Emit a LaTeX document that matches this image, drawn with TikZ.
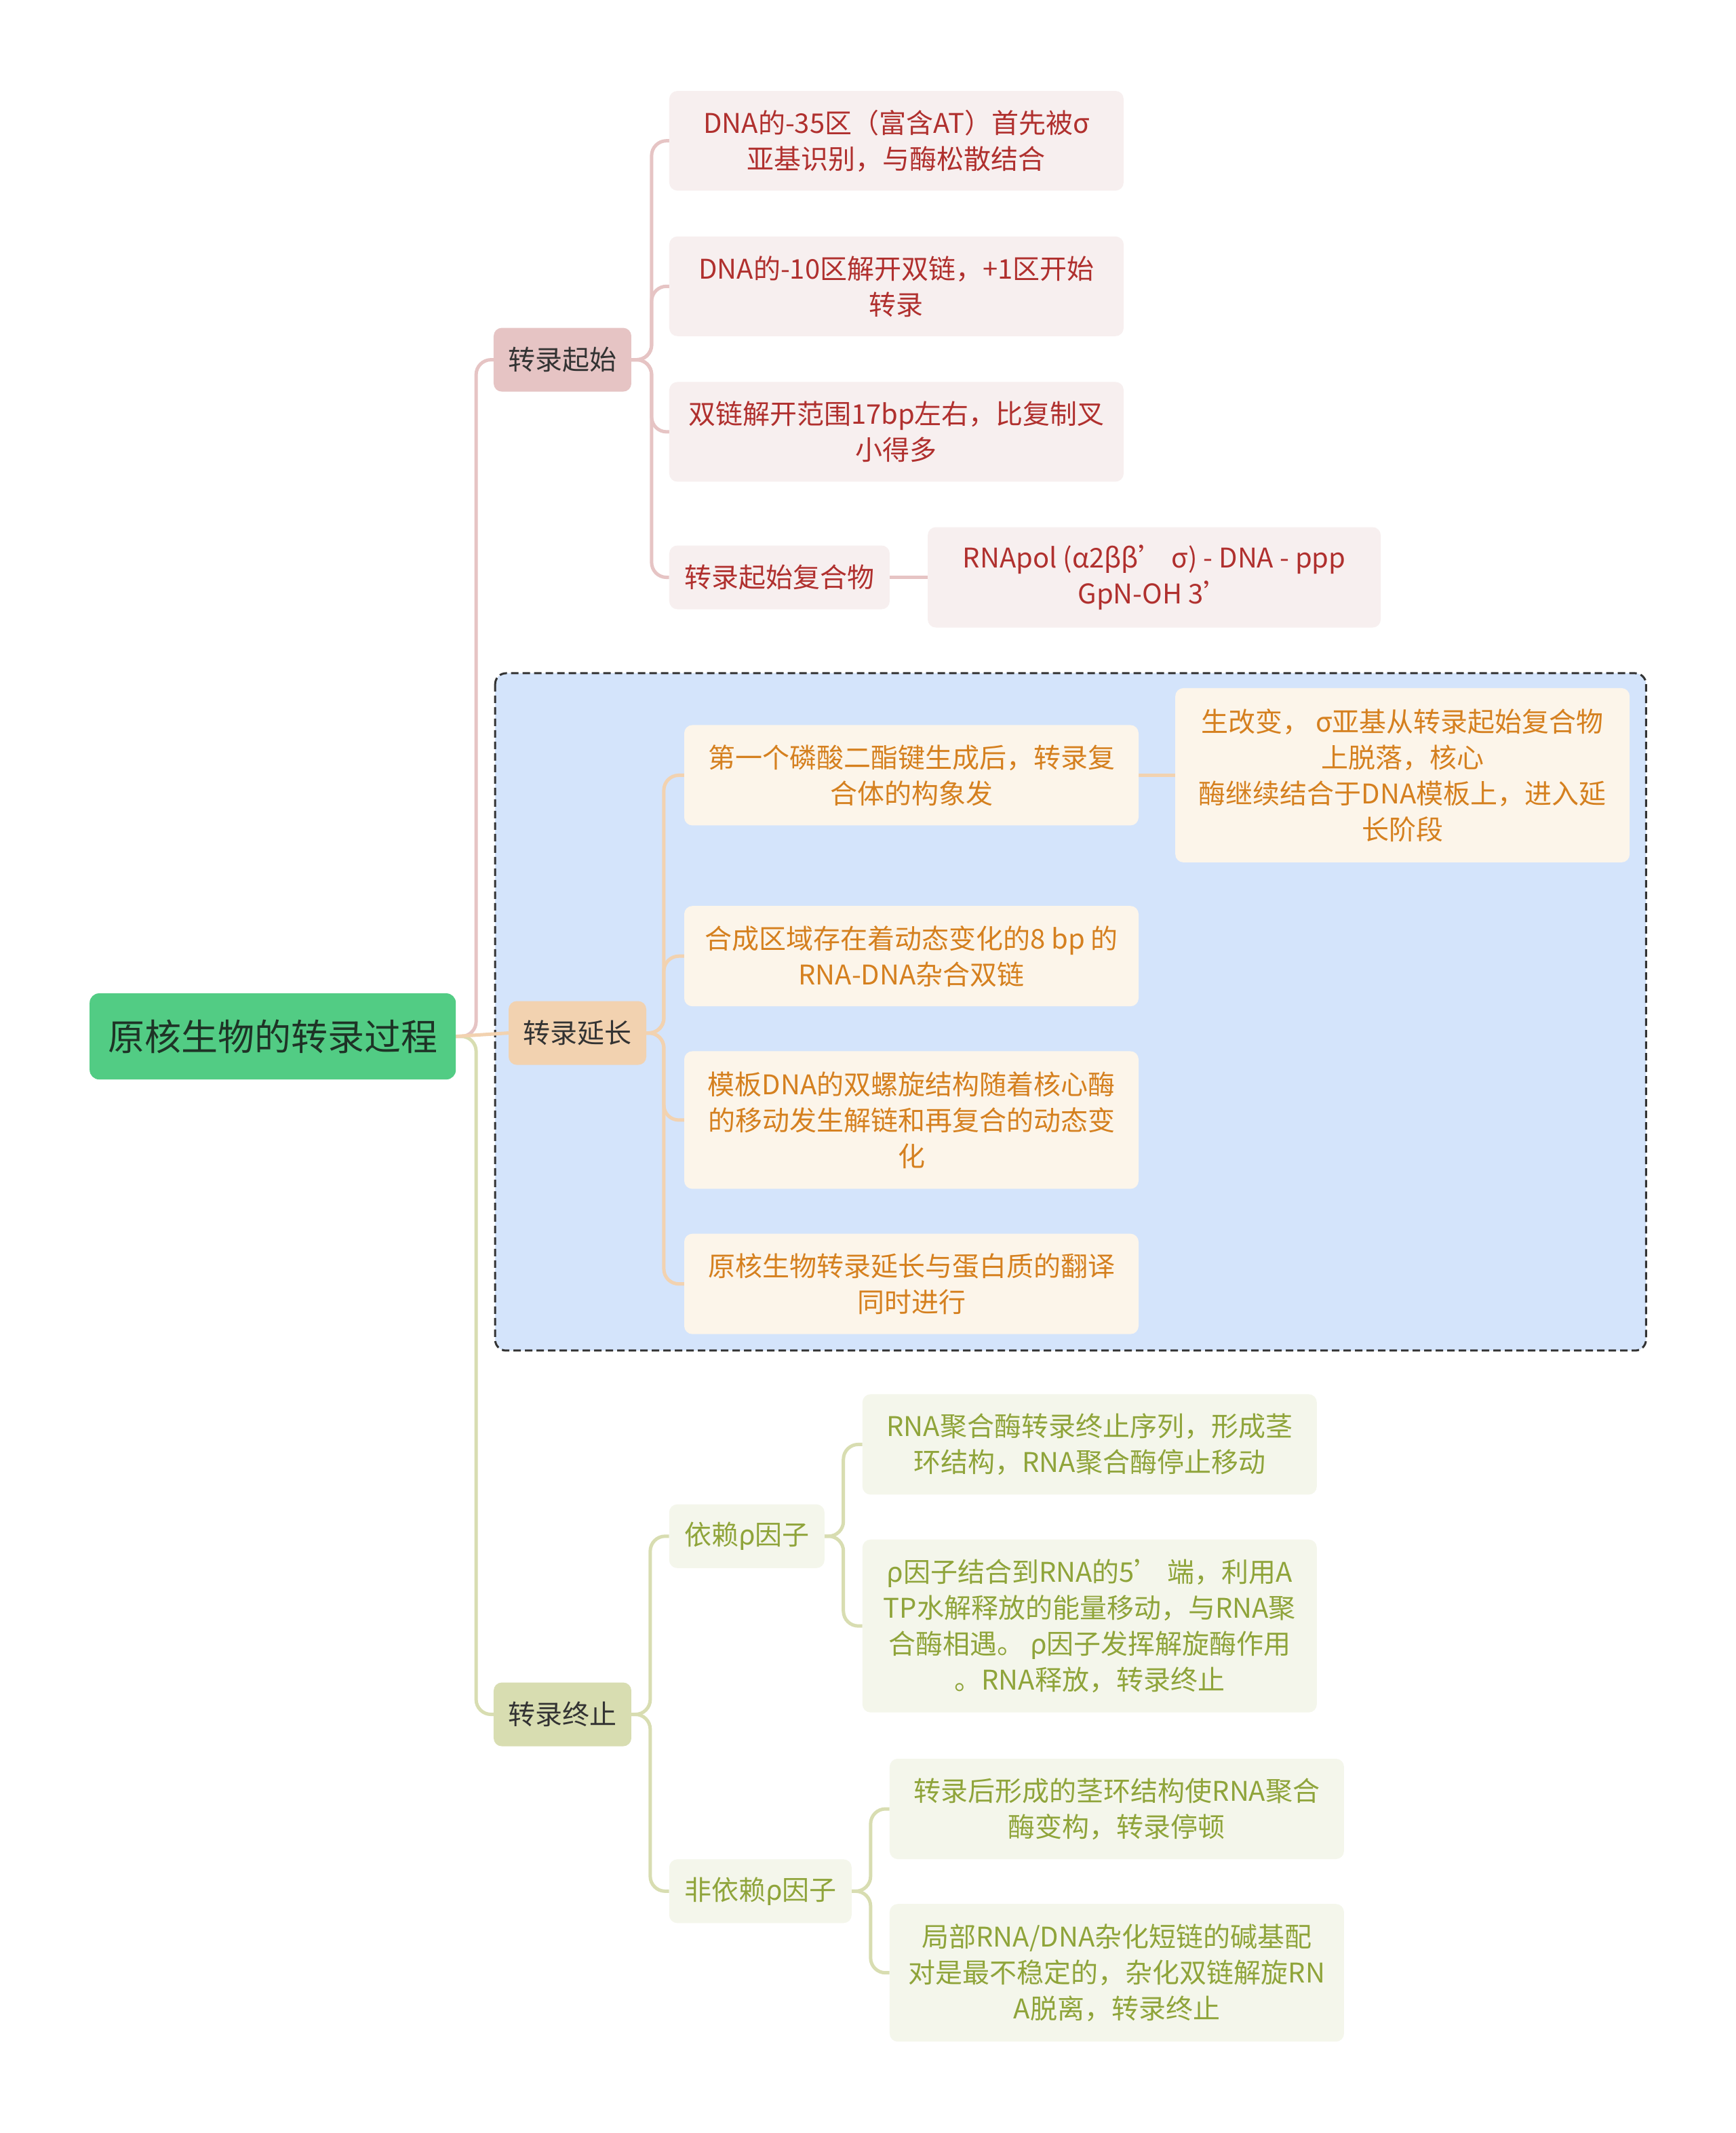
\documentclass[tikz,border=0pt]{standalone}
\usepackage{fontspec}
\setmainfont{Noto Sans CJK SC}
\usetikzlibrary{backgrounds}
\definecolor{rootfill}{HTML}{52CC84}
\definecolor{roottext}{HTML}{1E3326}
\definecolor{pkfill}{HTML}{E6C4C4}
\definecolor{pkline}{HTML}{E6C4C4}
\definecolor{pklight}{HTML}{F7EFEF}
\definecolor{pktext}{HTML}{B0302E}
\definecolor{orfill}{HTML}{F2D2B0}
\definecolor{orline}{HTML}{F2D2B0}
\definecolor{orlight}{HTML}{FCF5EA}
\definecolor{ortext}{HTML}{D5801F}
\definecolor{olfill}{HTML}{D8DDB1}
\definecolor{olline}{HTML}{D8DDB1}
\definecolor{ollight}{HTML}{F4F6EB}
\definecolor{oltext}{HTML}{8FA43A}
\definecolor{bluebg}{HTML}{D4E4FB}
\definecolor{darktext}{HTML}{333333}
\tikzset{
  box/.style={rounded corners=12pt, inner sep=0pt, align=center, font=\fontsize{40}{53}\selectfont},
  lvlone/.style={box, text=darktext, minimum height=94pt},
  pkbox/.style={box, fill=pklight, text=pktext},
  orbox/.style={box, fill=orlight, text=ortext},
  olbox/.style={box, fill=ollight, text=oltext},
  conn/.style={line width=5pt, rounded corners=22pt},
}
\begin{document}
\begin{tikzpicture}[x=1.003pt,y=-1.003pt]
\useasboundingbox (0,0) rectangle (2552.3,3136.6);

% root
\node[box, rounded corners=14pt, fill=rootfill, text=roottext, minimum width=540pt, minimum height=127pt, font=\fontsize{54}{64}\selectfont] (root) at (401,1524) {原核生物的转录过程};

% level one
\node[lvlone, fill=pkfill, minimum width=203pt] (qs) at (827,529) {转录起始};
\node[lvlone, fill=orfill, minimum width=203pt] (yc) at (849,1519) {转录延长};
\node[lvlone, fill=olfill, minimum width=203pt] (zz) at (827,2521) {转录终止};

% initiation children
\node[pkbox, minimum width=670pt, minimum height=147pt] (a1) at (1318,207) {DNA的-35区（富含AT）首先被σ\\亚基识别，与酶松散结合};
\node[pkbox, minimum width=670pt, minimum height=147pt] (a2) at (1318,421) {DNA的-10区解开双链，+1区开始\\转录};
\node[pkbox, minimum width=670pt, minimum height=147pt] (a3) at (1318,635) {双链解开范围17bp左右，比复制叉\\小得多};
\node[pkbox, minimum width=325pt, minimum height=94pt] (a4) at (1146,849) {转录起始复合物};
\node[pkbox, minimum width=668pt, minimum height=148pt] (a4a) at (1697,849) {RNApol (α2ββ’ σ) - DNA - ppp\\GpN-OH 3’};

% elongation children
\node[orbox, minimum width=670pt, minimum height=148pt] (b1) at (1340,1140) {第一个磷酸二酯键生成后，转录复\\合体的构象发};
\node[orbox, minimum width=670pt, minimum height=257pt] (b1a) at (2062,1140) {生改变， σ亚基从转录起始复合物\\上脱落，核心\\酶继续结合于DNA模板上，进入延\\长阶段};
\node[orbox, minimum width=670pt, minimum height=148pt] (b2) at (1340,1406) {合成区域存在着动态变化的8 bp 的\\RNA-DNA杂合双链};
\node[orbox, minimum width=670pt, minimum height=203pt] (b3) at (1340,1647) {模板DNA的双螺旋结构随着核心酶\\的移动发生解链和再复合的动态变\\化};
\node[orbox, minimum width=670pt, minimum height=148pt] (b4) at (1340,1888) {原核生物转录延长与蛋白质的翻译\\同时进行};

% termination children
\node[olbox, minimum width=229pt, minimum height=94pt] (c1) at (1098,2259) {依赖ρ因子};
\node[olbox, minimum width=269pt, minimum height=94pt] (c2) at (1118,2781) {非依赖ρ因子};
\node[olbox, minimum width=670pt, minimum height=148pt] (c1a) at (1602,2124) {RNA聚合酶转录终止序列，形成茎\\环结构，RNA聚合酶停止移动};
\node[olbox, minimum width=670pt, minimum height=255pt] (c1b) at (1602,2391) {ρ因子结合到RNA的5’ 端，利用A\\TP水解释放的能量移动，与RNA聚\\合酶相遇。 ρ因子发挥解旋酶作用\\。RNA释放，转录终止};
\node[olbox, minimum width=670pt, minimum height=148pt] (c2a) at (1642,2660) {转录后形成的茎环结构使RNA聚合\\酶变构，转录停顿};
\node[olbox, minimum width=670pt, minimum height=203pt] (c2b) at (1642,2901) {局部RNA/DNA杂化短链的碱基配\\对是最不稳定的，杂化双链解旋RN\\A脱离，转录终止};

\begin{scope}[on background layer]
\fill[white] (0,0) rectangle (2552.3,3136.6);
% elongation group background
\draw[fill=bluebg, draw=black!80, line width=3pt, dash pattern=on 11pt off 6pt, rounded corners=16pt] (728,990) rectangle (2420,1986);
% connectors
\draw[conn, pkline] (root.east) -- (700,1524) |- (qs.west);
\draw[conn, olline] (root.east) -- (700,1524) |- (zz.west);
\draw[conn, orline] (root.east) -- (yc.west);
\foreach \t in {a1,a2,a3,a4} \draw[conn, pkline] (qs.east) -- (958,529) |- (\t.west);
\draw[conn, pkline] (a4.east) -- (a4a.west);
\foreach \t in {b1,b2,b3,b4} \draw[conn, orline] (yc.east) -- (976,1519) |- (\t.west);
\draw[conn, orline] (b1.east) -- (b1a.west);
\foreach \t in {c1,c2} \draw[conn, olline] (zz.east) -- (956,2521) |- (\t.west);
\foreach \t in {c1a,c1b} \draw[conn, olline] (c1.east) -- (1240,2259) |- (\t.west);
\foreach \t in {c2a,c2b} \draw[conn, olline] (c2.east) -- (1280,2781) |- (\t.west);
\end{scope}
\end{tikzpicture}
\end{document}
